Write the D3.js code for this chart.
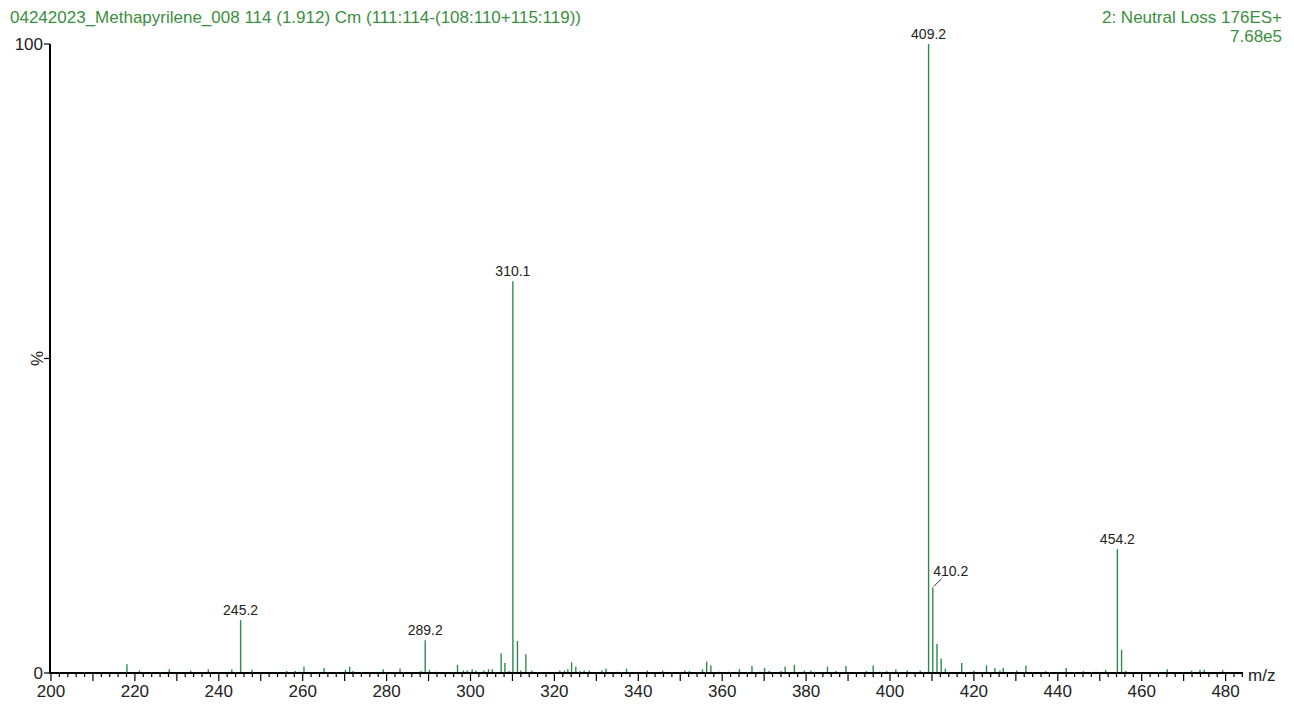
<!DOCTYPE html>
<html>
<head>
<meta charset="utf-8">
<script src="https://cdn.jsdelivr.net/npm/d3@7"></script>
<style>
  body { margin: 0; background: #fff; }
  text { font-family: "Liberation Sans", Arial, sans-serif; }
</style>
</head>
<body>
<div id="chart"></div>
<script>
// Spectrum: 04242023_Methapyrilene_008, neutral loss 176

const width = 1294;
const height = 704;

const titleLeft = "04242023_Methapyrilene_008 114 (1.912) Cm (111:114-(108:110+115:119))";
const titleRight = ["2: Neutral Loss 176ES+", "7.68e5"];

// m/z and relative intensity (%) of each stick
const mz = [218.1, 221.1, 228.2, 233.3, 237.5, 243.1, 245.2, 247.9, 256.2, 258.2, 259.2, 260.3, 265.1, 270.2, 271.2, 272.0,
  279.2, 283.2, 288.2, 289.2, 290.2, 291.9, 296.9, 298.3, 299.2, 300.4, 301.3, 303.2, 304.3, 305.2, 307.3, 308.2, 309.2,
  310.1, 311.2, 312.0, 313.2, 314.6, 315.2, 321.3, 322.4, 323.2, 324.1, 325.1, 326.1, 327.1, 328.3, 331.3, 332.3, 335.2,
  337.2, 342.1, 345.8, 351.1, 352.2, 355.3, 356.3, 357.3, 359.3, 361.5, 364.1, 367.1, 369.0, 370.1, 371.2, 374.0, 375.0,
  377.2, 379.6, 381.1, 382.0, 385.1, 387.1, 389.5, 394.4, 396.0, 397.6, 399.2, 401.4, 404.1, 407.2, 409.2, 410.2, 411.2,
  412.2, 413.2, 417.1, 420.0, 423.0, 425.0, 426.2, 427.0, 430.2, 432.4, 437.1, 442.0, 446.1, 449.1, 451.4, 454.2, 455.2,
  456.2, 466.1, 471.9, 473.9, 474.9, 479.3];
const intensity = [1.4, 0.4, 0.6, 0.4, 0.6, 0.6, 8.4, 0.5, 0.3, 0.3, 0.2, 1.0, 0.8, 0.5, 1.0, 0.3,
  0.6, 0.7, 0.3, 5.2, 0.5, 0.2, 1.3, 0.4, 0.4, 0.6, 0.4, 0.4, 0.6, 0.6, 3.1, 1.6, 0.3,
  62.3, 5.1, 0.4, 3.0, 0.4, 0.2, 0.4, 0.4, 0.6, 1.7, 1.0, 0.3, 0.4, 0.4, 0.4, 0.7, 0.2,
  0.7, 0.4, 0.4, 0.4, 0.3, 0.6, 1.8, 1.2, 0.2, 0.2, 0.6, 1.1, 0.2, 0.8, 0.3, 0.3, 1.0,
  1.3, 0.4, 0.4, 0.2, 1.0, 0.3, 1.1, 0.3, 1.2, 0.2, 0.3, 0.6, 0.4, 0.4, 100, 13.6, 4.6,
  2.3, 0.7, 1.6, 0.4, 1.2, 0.8, 0.4, 0.8, 0.4, 1.2, 0.3, 0.8, 0.3, 0.2, 0.5, 19.7, 3.7,
  0.3, 0.6, 0.4, 0.5, 0.5, 0.5];

// labelled peaks
const labelMz = [245.2, 289.2, 310.1, 409.2, 410.2, 454.2];

const xTicks = d3.range(200, 481, 20);

const green = "#2f8a4f";
const textGreen = "#3a8f3e";

const svg = d3.select("#chart")
  .append("svg")
  .attr("width", width)
  .attr("height", height);

const x = d3.scaleLinear().domain([200, 480]).range([51, 1225.6]);
const y = d3.scaleLinear().domain([0, 100]).range([673, 44]);

// header texts
svg.append("text")
  .attr("x", 10).attr("y", 23)
  .attr("font-size", 17).attr("fill", textGreen)
  .text(titleLeft);

svg.selectAll(".rtitle")
  .data(titleRight)
  .enter()
  .append("text")
  .attr("class", "rtitle")
  .attr("x", 1282)
  .attr("y", (d, i) => 23 + i * 19)
  .attr("text-anchor", "end")
  .attr("font-size", 17).attr("fill", textGreen)
  .text(d => d);

// sticks
const peaks = mz.map((m, i) => ({mz: m, v: intensity[i]}));
svg.selectAll(".stick")
  .data(peaks)
  .enter()
  .append("line")
  .attr("class", "stick")
  .attr("x1", d => x(d.mz)).attr("x2", d => x(d.mz))
  .attr("y1", y(0)).attr("y2", d => y(d.v))
  .attr("stroke", green)
  .attr("stroke-width", 1.4);

// peak labels
const labelled = peaks.filter(d => labelMz.includes(d.mz));
labelled.forEach(d => {
  const px = x(d.mz), py = y(d.v);
  let tx = px, ty = py - 5;
  if (d.mz === 410.2) {
    // label pushed aside with a leader line
    svg.append("line")
      .attr("x1", px + 1).attr("y1", py - 1)
      .attr("x2", px + 9).attr("y2", py - 9)
      .attr("stroke", "#333").attr("stroke-width", 1);
    tx = px + 18; ty = py - 11;
  }
  svg.append("text")
    .attr("x", tx).attr("y", ty)
    .attr("text-anchor", "middle")
    .attr("font-size", 14).attr("fill", "#222")
    .text(d.mz.toFixed(1));
});

// x axis: minor ticks every 2, major every 10, labels every 20
const xAxis = svg.append("g");
xAxis.append("line")
  .attr("x1", 49).attr("x2", 1243)
  .attr("y1", y(0)).attr("y2", y(0))
  .attr("stroke", "#000").attr("stroke-width", 2);
xAxis.selectAll(".tk")
  .data(d3.range(200, 485, 2))
  .enter()
  .append("line")
  .attr("x1", d => x(d)).attr("x2", d => x(d))
  .attr("y1", y(0))
  .attr("y2", d => y(0) + (d % 10 === 0 ? 8 : 4))
  .attr("stroke", "#000").attr("stroke-width", 1.2);
xAxis.selectAll(".tl")
  .data(xTicks)
  .enter()
  .append("text")
  .attr("x", d => x(d)).attr("y", 697)
  .attr("text-anchor", "middle")
  .attr("font-size", 17).attr("fill", "#222")
  .text(d => d);
xAxis.append("text")
  .attr("x", 1248).attr("y", 681)
  .attr("font-size", 17).attr("fill", "#222")
  .text("m/z");

// y axis
const yAxis = svg.append("g");
yAxis.append("line")
  .attr("x1", 50).attr("x2", 50)
  .attr("y1", y(100)).attr("y2", y(0) + 1)
  .attr("stroke", "#000").attr("stroke-width", 2);
yAxis.selectAll(".ytk")
  .data([0, 50, 100])
  .enter()
  .append("line")
  .attr("x1", 44).attr("x2", 50)
  .attr("y1", d => y(d)).attr("y2", d => y(d))
  .attr("stroke", "#000").attr("stroke-width", 1.2);
yAxis.selectAll(".ytl")
  .data([0, 100])
  .enter()
  .append("text")
  .attr("x", 43).attr("y", d => y(d) + 6)
  .attr("text-anchor", "end")
  .attr("font-size", 17).attr("fill", "#222")
  .text(d => d);
yAxis.append("text")
  .attr("transform", `translate(43, ${y(50)}) rotate(-90)`)
  .attr("text-anchor", "middle")
  .attr("font-size", 17).attr("fill", "#222")
  .text("%");
</script>
</body>
</html>
